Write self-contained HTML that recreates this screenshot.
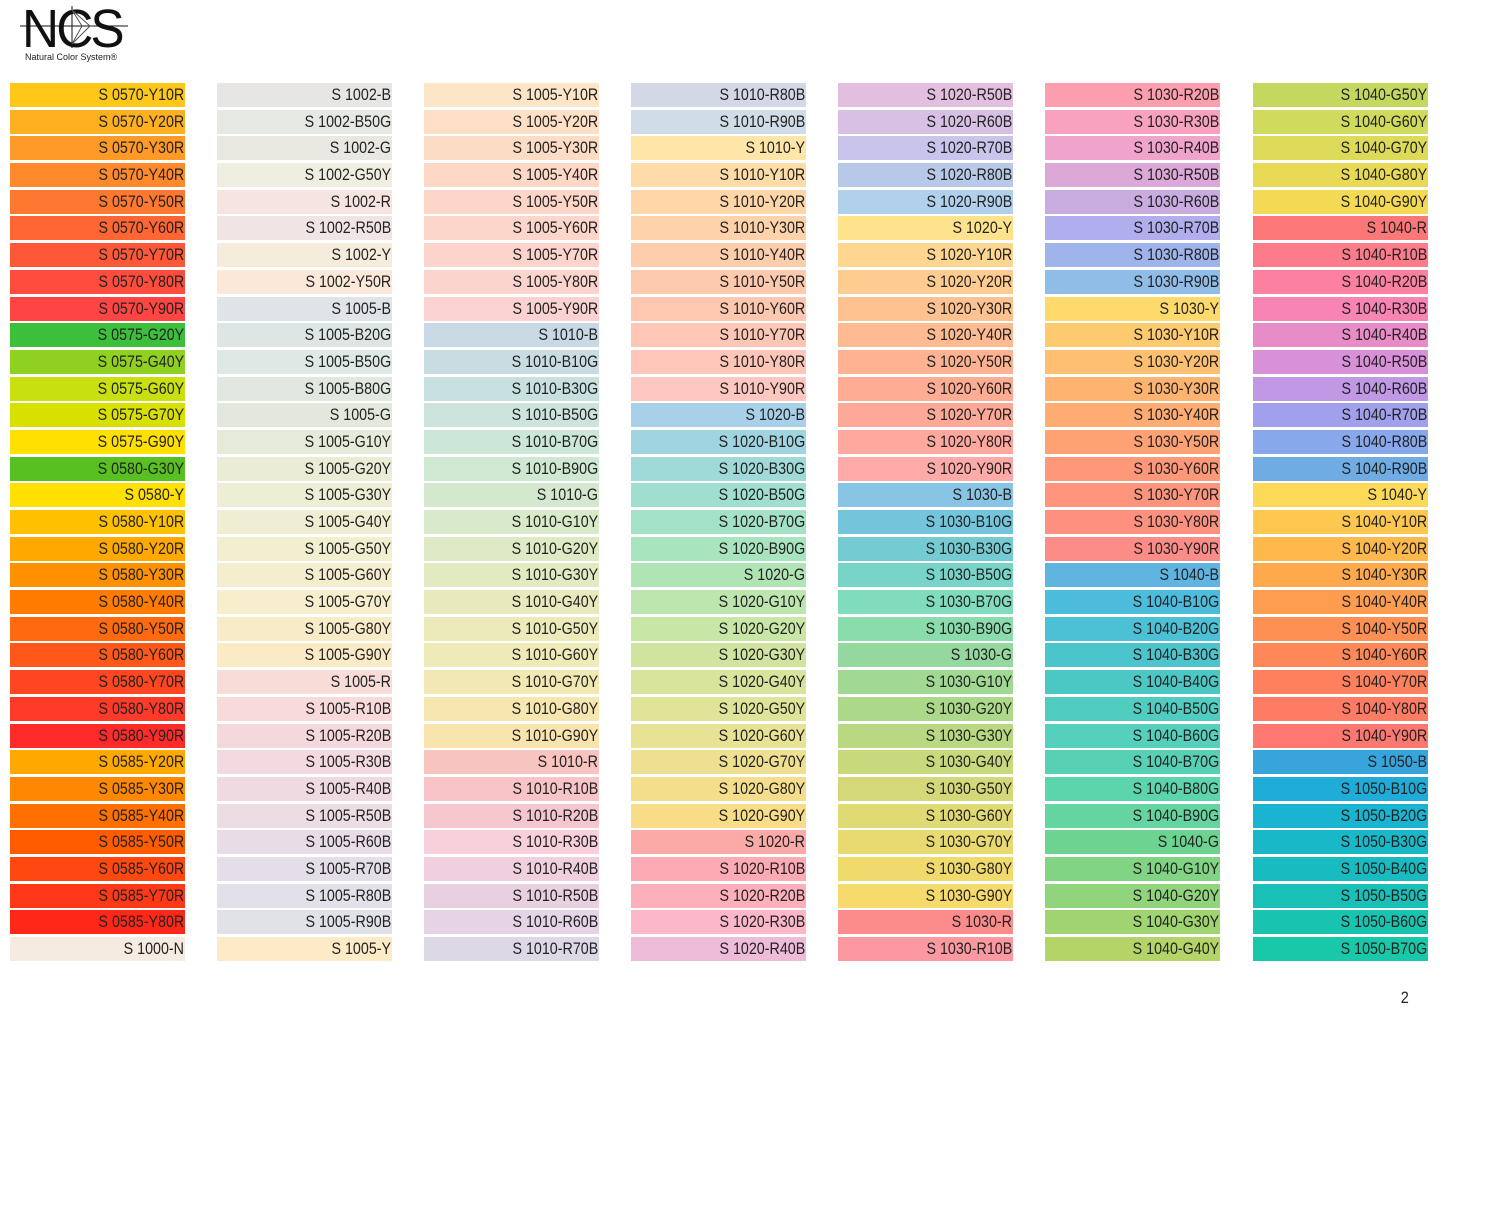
<!DOCTYPE html>
<html><head><meta charset="utf-8"><style>
body{margin:0;width:1500px;height:1220px;background:#fff;position:relative;overflow:hidden;font-family:"Liberation Sans",sans-serif}
.c{position:absolute;top:83px;width:175px}
.c div{height:24px;margin-bottom:2.7px;text-align:right;line-height:24px;overflow:hidden;white-space:nowrap}
.c i{font-style:normal;display:inline-block;font-size:17px;color:#222;transform:scaleX(.84);transform-origin:right center;padding-right:1px}
</style></head><body>
<div style="position:absolute;left:22px;top:2px;font-size:54px;letter-spacing:-3px;color:#111;line-height:54px;transform:scaleX(.95);transform-origin:left">NCS</div>
<svg style="position:absolute;left:20px;top:0" width="110" height="55"><line x1="0" y1="26" x2="108" y2="26" stroke="#111" stroke-width="1"/><line x1="52" y1="6" x2="52" y2="48" stroke="#111"/><path d="M52 10 L70 26 L52 44 M52 10 L62 26 L52 44" stroke="#555" fill="none"/></svg>
<div style="position:absolute;left:25px;top:52px;font-size:9px;color:#222">Natural Color System®</div>
<div style="position:absolute;left:1400px;top:988px;font-size:17px;color:#222;transform:scaleX(.85)">2</div>

<div class="c" style="left:10px">
<div style="background:#FFC818"><i>S 0570-Y10R</i></div>
<div style="background:#FFB020"><i>S 0570-Y20R</i></div>
<div style="background:#FF9A28"><i>S 0570-Y30R</i></div>
<div style="background:#FF8A2C"><i>S 0570-Y40R</i></div>
<div style="background:#FF7830"><i>S 0570-Y50R</i></div>
<div style="background:#FF6634"><i>S 0570-Y60R</i></div>
<div style="background:#FF5838"><i>S 0570-Y70R</i></div>
<div style="background:#FF4C3C"><i>S 0570-Y80R</i></div>
<div style="background:#FF4444"><i>S 0570-Y90R</i></div>
<div style="background:#3CC03C"><i>S 0575-G20Y</i></div>
<div style="background:#90D020"><i>S 0575-G40Y</i></div>
<div style="background:#C8E010"><i>S 0575-G60Y</i></div>
<div style="background:#D8E000"><i>S 0575-G70Y</i></div>
<div style="background:#FFE000"><i>S 0575-G90Y</i></div>
<div style="background:#58C020"><i>S 0580-G30Y</i></div>
<div style="background:#FFE000"><i>S 0580-Y</i></div>
<div style="background:#FFC000"><i>S 0580-Y10R</i></div>
<div style="background:#FFA800"><i>S 0580-Y20R</i></div>
<div style="background:#FF9000"><i>S 0580-Y30R</i></div>
<div style="background:#FF7C00"><i>S 0580-Y40R</i></div>
<div style="background:#FF6A10"><i>S 0580-Y50R</i></div>
<div style="background:#FF5818"><i>S 0580-Y60R</i></div>
<div style="background:#FF4620"><i>S 0580-Y70R</i></div>
<div style="background:#FF3A28"><i>S 0580-Y80R</i></div>
<div style="background:#FF2A2A"><i>S 0580-Y90R</i></div>
<div style="background:#FFA800"><i>S 0585-Y20R</i></div>
<div style="background:#FF8800"><i>S 0585-Y30R</i></div>
<div style="background:#FF7000"><i>S 0585-Y40R</i></div>
<div style="background:#FF5C00"><i>S 0585-Y50R</i></div>
<div style="background:#FF4810"><i>S 0585-Y60R</i></div>
<div style="background:#FF3818"><i>S 0585-Y70R</i></div>
<div style="background:#FF2818"><i>S 0585-Y80R</i></div>
<div style="background:#F5EBE0"><i>S 1000-N</i></div>
</div>

<div class="c" style="left:217px">
<div style="background:#E8E6E4"><i>S 1002-B</i></div>
<div style="background:#E6E8E4"><i>S 1002-B50G</i></div>
<div style="background:#E8E8E0"><i>S 1002-G</i></div>
<div style="background:#F0EEE0"><i>S 1002-G50Y</i></div>
<div style="background:#F5E4E0"><i>S 1002-R</i></div>
<div style="background:#F0E4E4"><i>S 1002-R50B</i></div>
<div style="background:#F5ECDC"><i>S 1002-Y</i></div>
<div style="background:#FBE8D8"><i>S 1002-Y50R</i></div>
<div style="background:#E0E4E8"><i>S 1005-B</i></div>
<div style="background:#DDE6E4"><i>S 1005-B20G</i></div>
<div style="background:#DEE8E4"><i>S 1005-B50G</i></div>
<div style="background:#E0E8E0"><i>S 1005-B80G</i></div>
<div style="background:#E2E8DC"><i>S 1005-G</i></div>
<div style="background:#E6EAD8"><i>S 1005-G10Y</i></div>
<div style="background:#EAECD6"><i>S 1005-G20Y</i></div>
<div style="background:#EEEED4"><i>S 1005-G30Y</i></div>
<div style="background:#F0EED2"><i>S 1005-G40Y</i></div>
<div style="background:#F2EED0"><i>S 1005-G50Y</i></div>
<div style="background:#F4EECE"><i>S 1005-G60Y</i></div>
<div style="background:#F6EECC"><i>S 1005-G70Y</i></div>
<div style="background:#F8ECC8"><i>S 1005-G80Y</i></div>
<div style="background:#FAEAC6"><i>S 1005-G90Y</i></div>
<div style="background:#F8DCD8"><i>S 1005-R</i></div>
<div style="background:#F8DADA"><i>S 1005-R10B</i></div>
<div style="background:#F5D8DC"><i>S 1005-R20B</i></div>
<div style="background:#F2DAE0"><i>S 1005-R30B</i></div>
<div style="background:#F0DAE2"><i>S 1005-R40B</i></div>
<div style="background:#ECDCE4"><i>S 1005-R50B</i></div>
<div style="background:#E8DCE6"><i>S 1005-R60B</i></div>
<div style="background:#E4DEE8"><i>S 1005-R70B</i></div>
<div style="background:#E2E0E8"><i>S 1005-R80B</i></div>
<div style="background:#E0E2E8"><i>S 1005-R90B</i></div>
<div style="background:#FDEBC8"><i>S 1005-Y</i></div>
</div>

<div class="c" style="left:424px">
<div style="background:#FDE6C8"><i>S 1005-Y10R</i></div>
<div style="background:#FDE0C6"><i>S 1005-Y20R</i></div>
<div style="background:#FDDCC6"><i>S 1005-Y30R</i></div>
<div style="background:#FDD8C6"><i>S 1005-Y40R</i></div>
<div style="background:#FDD6C8"><i>S 1005-Y50R</i></div>
<div style="background:#FCD6CA"><i>S 1005-Y60R</i></div>
<div style="background:#FCD4CC"><i>S 1005-Y70R</i></div>
<div style="background:#FCD4CE"><i>S 1005-Y80R</i></div>
<div style="background:#FAD2D2"><i>S 1005-Y90R</i></div>
<div style="background:#C8D8E4"><i>S 1010-B</i></div>
<div style="background:#C8DCE2"><i>S 1010-B10G</i></div>
<div style="background:#C8E0E0"><i>S 1010-B30G</i></div>
<div style="background:#CCE4DC"><i>S 1010-B50G</i></div>
<div style="background:#CCE6D8"><i>S 1010-B70G</i></div>
<div style="background:#D0E8D2"><i>S 1010-B90G</i></div>
<div style="background:#D4E8CE"><i>S 1010-G</i></div>
<div style="background:#D8EACA"><i>S 1010-G10Y</i></div>
<div style="background:#DEEAC6"><i>S 1010-G20Y</i></div>
<div style="background:#E2EAC2"><i>S 1010-G30Y</i></div>
<div style="background:#E8EABE"><i>S 1010-G40Y</i></div>
<div style="background:#ECEABA"><i>S 1010-G50Y</i></div>
<div style="background:#F0EAB8"><i>S 1010-G60Y</i></div>
<div style="background:#F2E8B4"><i>S 1010-G70Y</i></div>
<div style="background:#F6E6B0"><i>S 1010-G80Y</i></div>
<div style="background:#F8E4AC"><i>S 1010-G90Y</i></div>
<div style="background:#F8C4C0"><i>S 1010-R</i></div>
<div style="background:#F8C4C8"><i>S 1010-R10B</i></div>
<div style="background:#F6C6CE"><i>S 1010-R20B</i></div>
<div style="background:#F8D0DC"><i>S 1010-R30B</i></div>
<div style="background:#F0D0DE"><i>S 1010-R40B</i></div>
<div style="background:#E8D0E0"><i>S 1010-R50B</i></div>
<div style="background:#E4D4E6"><i>S 1010-R60B</i></div>
<div style="background:#DCD8E6"><i>S 1010-R70B</i></div>
</div>

<div class="c" style="left:631px">
<div style="background:#D4D8E6"><i>S 1010-R80B</i></div>
<div style="background:#D0DCE6"><i>S 1010-R90B</i></div>
<div style="background:#FEE6A8"><i>S 1010-Y</i></div>
<div style="background:#FEDCA8"><i>S 1010-Y10R</i></div>
<div style="background:#FED6A8"><i>S 1010-Y20R</i></div>
<div style="background:#FED2AA"><i>S 1010-Y30R</i></div>
<div style="background:#FECEAC"><i>S 1010-Y40R</i></div>
<div style="background:#FECAAE"><i>S 1010-Y50R</i></div>
<div style="background:#FEC8B0"><i>S 1010-Y60R</i></div>
<div style="background:#FEC6B4"><i>S 1010-Y70R</i></div>
<div style="background:#FEC6B8"><i>S 1010-Y80R</i></div>
<div style="background:#FEC8C0"><i>S 1010-Y90R</i></div>
<div style="background:#A8D0E8"><i>S 1020-B</i></div>
<div style="background:#A0D4E0"><i>S 1020-B10G</i></div>
<div style="background:#A0DAD8"><i>S 1020-B30G</i></div>
<div style="background:#A0DED0"><i>S 1020-B50G</i></div>
<div style="background:#A4E2C8"><i>S 1020-B70G</i></div>
<div style="background:#A8E4BE"><i>S 1020-B90G</i></div>
<div style="background:#B0E4B4"><i>S 1020-G</i></div>
<div style="background:#BCE6AE"><i>S 1020-G10Y</i></div>
<div style="background:#C8E6A6"><i>S 1020-G20Y</i></div>
<div style="background:#D0E4A0"><i>S 1020-G30Y</i></div>
<div style="background:#D8E49C"><i>S 1020-G40Y</i></div>
<div style="background:#E0E498"><i>S 1020-G50Y</i></div>
<div style="background:#E8E294"><i>S 1020-G60Y</i></div>
<div style="background:#EEE090"><i>S 1020-G70Y</i></div>
<div style="background:#F4DE8C"><i>S 1020-G80Y</i></div>
<div style="background:#F8DC88"><i>S 1020-G90Y</i></div>
<div style="background:#FCAAA8"><i>S 1020-R</i></div>
<div style="background:#FCAAB4"><i>S 1020-R10B</i></div>
<div style="background:#FCB0BC"><i>S 1020-R20B</i></div>
<div style="background:#FCB8C8"><i>S 1020-R30B</i></div>
<div style="background:#ECBCD8"><i>S 1020-R40B</i></div>
</div>

<div class="c" style="left:838px">
<div style="background:#E4BEDE"><i>S 1020-R50B</i></div>
<div style="background:#D8C0E4"><i>S 1020-R60B</i></div>
<div style="background:#C8C4EC"><i>S 1020-R70B</i></div>
<div style="background:#B8C8E8"><i>S 1020-R80B</i></div>
<div style="background:#B0D0EC"><i>S 1020-R90B</i></div>
<div style="background:#FEE28C"><i>S 1020-Y</i></div>
<div style="background:#FED690"><i>S 1020-Y10R</i></div>
<div style="background:#FECC90"><i>S 1020-Y20R</i></div>
<div style="background:#FEC290"><i>S 1020-Y30R</i></div>
<div style="background:#FEBA90"><i>S 1020-Y40R</i></div>
<div style="background:#FEB292"><i>S 1020-Y50R</i></div>
<div style="background:#FEAC94"><i>S 1020-Y60R</i></div>
<div style="background:#FEA898"><i>S 1020-Y70R</i></div>
<div style="background:#FEA89E"><i>S 1020-Y80R</i></div>
<div style="background:#FEAAA8"><i>S 1020-Y90R</i></div>
<div style="background:#88C4E4"><i>S 1030-B</i></div>
<div style="background:#74C4DC"><i>S 1030-B10G</i></div>
<div style="background:#74CCD2"><i>S 1030-B30G</i></div>
<div style="background:#78D4C8"><i>S 1030-B50G</i></div>
<div style="background:#80DCBC"><i>S 1030-B70G</i></div>
<div style="background:#8ADCAC"><i>S 1030-B90G</i></div>
<div style="background:#94D8A0"><i>S 1030-G</i></div>
<div style="background:#A0D894"><i>S 1030-G10Y</i></div>
<div style="background:#ACD88A"><i>S 1030-G20Y</i></div>
<div style="background:#B8D882"><i>S 1030-G30Y</i></div>
<div style="background:#C8D87C"><i>S 1030-G40Y</i></div>
<div style="background:#D4D878"><i>S 1030-G50Y</i></div>
<div style="background:#E0DA74"><i>S 1030-G60Y</i></div>
<div style="background:#E8DA70"><i>S 1030-G70Y</i></div>
<div style="background:#F0DA6C"><i>S 1030-G80Y</i></div>
<div style="background:#F6DA6C"><i>S 1030-G90Y</i></div>
<div style="background:#FC8C8C"><i>S 1030-R</i></div>
<div style="background:#FC98A0"><i>S 1030-R10B</i></div>
</div>

<div class="c" style="left:1045px">
<div style="background:#FC9EAE"><i>S 1030-R20B</i></div>
<div style="background:#F8A2C0"><i>S 1030-R30B</i></div>
<div style="background:#F0A4CC"><i>S 1030-R40B</i></div>
<div style="background:#DCA8D8"><i>S 1030-R50B</i></div>
<div style="background:#C8ACE0"><i>S 1030-R60B</i></div>
<div style="background:#B0AEEC"><i>S 1030-R70B</i></div>
<div style="background:#A0B4EC"><i>S 1030-R80B</i></div>
<div style="background:#90BCE8"><i>S 1030-R90B</i></div>
<div style="background:#FEDA6C"><i>S 1030-Y</i></div>
<div style="background:#FECA70"><i>S 1030-Y10R</i></div>
<div style="background:#FEC070"><i>S 1030-Y20R</i></div>
<div style="background:#FEB470"><i>S 1030-Y30R</i></div>
<div style="background:#FEAC72"><i>S 1030-Y40R</i></div>
<div style="background:#FEA274"><i>S 1030-Y50R</i></div>
<div style="background:#FE9878"><i>S 1030-Y60R</i></div>
<div style="background:#FE947C"><i>S 1030-Y70R</i></div>
<div style="background:#FE9080"><i>S 1030-Y80R</i></div>
<div style="background:#FC8C88"><i>S 1030-Y90R</i></div>
<div style="background:#60B4E0"><i>S 1040-B</i></div>
<div style="background:#4CBCDC"><i>S 1040-B10G</i></div>
<div style="background:#4CC0D4"><i>S 1040-B20G</i></div>
<div style="background:#4CC4CC"><i>S 1040-B30G</i></div>
<div style="background:#4CC8C4"><i>S 1040-B40G</i></div>
<div style="background:#50CCC0"><i>S 1040-B50G</i></div>
<div style="background:#54D0BC"><i>S 1040-B60G</i></div>
<div style="background:#58D0B4"><i>S 1040-B70G</i></div>
<div style="background:#5CD4AC"><i>S 1040-B80G</i></div>
<div style="background:#64D4A0"><i>S 1040-B90G</i></div>
<div style="background:#6CD490"><i>S 1040-G</i></div>
<div style="background:#80D484"><i>S 1040-G10Y</i></div>
<div style="background:#90D47C"><i>S 1040-G20Y</i></div>
<div style="background:#A0D470"><i>S 1040-G30Y</i></div>
<div style="background:#B4D468"><i>S 1040-G40Y</i></div>
</div>

<div class="c" style="left:1253px">
<div style="background:#C4D860"><i>S 1040-G50Y</i></div>
<div style="background:#D0DA5C"><i>S 1040-G60Y</i></div>
<div style="background:#DCDA58"><i>S 1040-G70Y</i></div>
<div style="background:#E8DA54"><i>S 1040-G80Y</i></div>
<div style="background:#F4DA54"><i>S 1040-G90Y</i></div>
<div style="background:#FC7878"><i>S 1040-R</i></div>
<div style="background:#FC7C8C"><i>S 1040-R10B</i></div>
<div style="background:#FC80A0"><i>S 1040-R20B</i></div>
<div style="background:#F884B4"><i>S 1040-R30B</i></div>
<div style="background:#E88CC8"><i>S 1040-R40B</i></div>
<div style="background:#D890D8"><i>S 1040-R50B</i></div>
<div style="background:#C098E4"><i>S 1040-R60B</i></div>
<div style="background:#A0A0EC"><i>S 1040-R70B</i></div>
<div style="background:#88A8EC"><i>S 1040-R80B</i></div>
<div style="background:#70ACE4"><i>S 1040-R90B</i></div>
<div style="background:#FCDA58"><i>S 1040-Y</i></div>
<div style="background:#FEC850"><i>S 1040-Y10R</i></div>
<div style="background:#FEB84C"><i>S 1040-Y20R</i></div>
<div style="background:#FEAA4C"><i>S 1040-Y30R</i></div>
<div style="background:#FE9C50"><i>S 1040-Y40R</i></div>
<div style="background:#FE9054"><i>S 1040-Y50R</i></div>
<div style="background:#FE8858"><i>S 1040-Y60R</i></div>
<div style="background:#FE805C"><i>S 1040-Y70R</i></div>
<div style="background:#FE7C64"><i>S 1040-Y80R</i></div>
<div style="background:#FC7870"><i>S 1040-Y90R</i></div>
<div style="background:#38A4DC"><i>S 1050-B</i></div>
<div style="background:#20ACD8"><i>S 1050-B10G</i></div>
<div style="background:#18B4D0"><i>S 1050-B20G</i></div>
<div style="background:#18B8C8"><i>S 1050-B30G</i></div>
<div style="background:#18BCC0"><i>S 1050-B40G</i></div>
<div style="background:#18C0B8"><i>S 1050-B50G</i></div>
<div style="background:#18C4B0"><i>S 1050-B60G</i></div>
<div style="background:#18C8A8"><i>S 1050-B70G</i></div>
</div>
</body></html>
